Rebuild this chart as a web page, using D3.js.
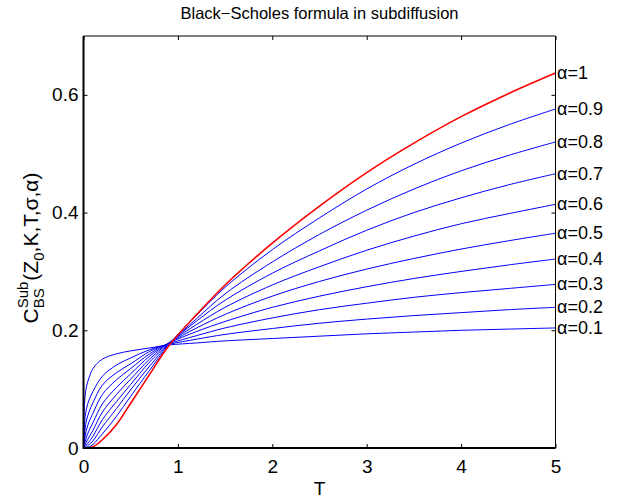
<!DOCTYPE html>
<html>
<head>
<meta charset="utf-8">
<script src="https://cdn.jsdelivr.net/npm/d3@7"></script>
<style>
body { margin: 0; background: #fff; }
text { font-family: "Liberation Sans", Arial, sans-serif; fill: #000; }
</style>
</head>
<body>
<script>
// time grid
const T = [0, 0.01, 0.03, 0.06, 0.1, 0.2, 0.35, 0.5, 0.7, 0.9, 1.2, 1.5, 2, 2.5, 3, 3.5, 4, 4.5, 5];

// option price for each alpha, read at the T values above
const a10 = [0, 0, 0, 0.0003, 0.002, 0.014, 0.040, 0.076, 0.125, 0.173, 0.227, 0.277, 0.348, 0.411, 0.468, 0.518, 0.563, 0.602, 0.637];
const a09 = [0, 0, 0.0005, 0.002, 0.006, 0.024, 0.054, 0.088, 0.132, 0.175, 0.226, 0.273, 0.337, 0.391, 0.440, 0.482, 0.518, 0.549, 0.576];
const a08 = [0, 0.0003, 0.002, 0.006, 0.012, 0.036, 0.067, 0.099, 0.139, 0.176, 0.220, 0.262, 0.316, 0.363, 0.404, 0.440, 0.471, 0.497, 0.520];
const a07 = [0, 0.001, 0.005, 0.011, 0.020, 0.048, 0.079, 0.108, 0.146, 0.177, 0.216, 0.251, 0.297, 0.335, 0.370, 0.400, 0.425, 0.447, 0.466];
const a06 = [0, 0.003, 0.010, 0.019, 0.030, 0.061, 0.091, 0.117, 0.151, 0.178, 0.210, 0.239, 0.277, 0.308, 0.336, 0.360, 0.381, 0.398, 0.414];
const a05 = [0, 0.006, 0.018, 0.030, 0.043, 0.075, 0.103, 0.126, 0.156, 0.178, 0.204, 0.227, 0.258, 0.283, 0.304, 0.322, 0.338, 0.352, 0.365];
const a04 = [0, 0.012, 0.030, 0.045, 0.059, 0.091, 0.116, 0.135, 0.160, 0.178, 0.198, 0.215, 0.239, 0.258, 0.274, 0.288, 0.300, 0.311, 0.321];
const a03 = [0, 0.022, 0.046, 0.062, 0.077, 0.107, 0.128, 0.143, 0.164, 0.177, 0.191, 0.204, 0.221, 0.235, 0.246, 0.256, 0.264, 0.271, 0.278];
const a02 = [0, 0.040, 0.066, 0.082, 0.096, 0.122, 0.141, 0.153, 0.167, 0.176, 0.185, 0.193, 0.203, 0.212, 0.219, 0.225, 0.230, 0.235, 0.239];
const a01 = [0, 0.075, 0.103, 0.120, 0.135, 0.151, 0.160, 0.165, 0.170, 0.175, 0.1785, 0.182, 0.186, 0.190, 0.194, 0.197, 0.200, 0.202, 0.204];

const labels = ["\u03b1=1", "\u03b1=0.9", "\u03b1=0.8", "\u03b1=0.7", "\u03b1=0.6",
                "\u03b1=0.5", "\u03b1=0.4", "\u03b1=0.3", "\u03b1=0.2", "\u03b1=0.1"];
const xTicks = [0, 1, 2, 3, 4, 5];
const yTicks = [0, 0.2, 0.4, 0.6];

const series = [a10, a09, a08, a07, a06, a05, a04, a03, a02, a01].map((v, i) => ({
    label: labels[i],
    red: i === 0,
    points: v.map((c, j) => [T[j], c])
}));

const width = 617, height = 500;
const margin = {top: 36, right: 61.5, bottom: 52, left: 83.5};

const x = d3.scaleLinear()
    .domain([0, 5])
    .range([margin.left, width - margin.right]);

const y = d3.scaleLinear()
    .domain([0, 0.7])
    .range([height - margin.bottom, margin.top]);

const svg = d3.select("body").append("svg")
    .attr("width", width)
    .attr("height", height);

// axes, ticks pointing inward
svg.append("g")
    .attr("transform", `translate(0,${y(0)})`)
    .call(d3.axisBottom(x).tickValues(xTicks).tickFormat(d3.format("d"))
        .tickSizeInner(-4).tickSizeOuter(0).tickPadding(12))
    .call(g => g.select(".domain").remove())
    .call(g => g.selectAll("text").attr("font-size", 19).attr("font-family", null));

svg.append("g")
    .attr("transform", `translate(${x(0)},0)`)
    .call(d3.axisLeft(y).tickValues(yTicks).tickFormat(d => d === 0 ? "0" : d3.format(".1f")(d))
        .tickSizeInner(-4).tickSizeOuter(0).tickPadding(5))
    .call(g => g.select(".domain").remove())
    .call(g => g.selectAll("text").attr("font-size", 19).attr("font-family", null));

svg.append("g")
    .attr("transform", `translate(0,${y(0.7)})`)
    .call(d3.axisTop(x).tickValues(xTicks).tickFormat("").tickSizeInner(-4).tickSizeOuter(0))
    .call(g => g.select(".domain").remove());

svg.append("g")
    .attr("transform", `translate(${x(5)},0)`)
    .call(d3.axisRight(y).tickValues(yTicks).tickFormat("").tickSizeInner(-4).tickSizeOuter(0))
    .call(g => g.select(".domain").remove());

// curves
const line = d3.line()
    .x(d => x(d[0]))
    .y(d => y(d[1]))
    .curve(d3.curveCatmullRom.alpha(0.5));

svg.append("g")
    .attr("fill", "none")
    .selectAll("path")
    .data(series.slice().reverse())
    .join("path")
    .attr("stroke", d => d.red ? "#ff0000" : "#0000ff")
    .attr("stroke-width", d => d.red ? 1.6 : 1)
    .attr("d", d => line(d.points));

// box
svg.append("path")
    .attr("fill", "none").attr("stroke", "#000").attr("stroke-width", 1)
    .attr("d", `M${x(0)},${y(0.7)}H${x(5)}V${y(0)}`);
svg.append("path")
    .attr("fill", "none").attr("stroke", "#000").attr("stroke-width", 2)
    .attr("d", `M${x(0)},${y(0.7)}V${y(0)}H${x(5)}`);

// alpha labels at the right end
svg.append("g")
    .selectAll("text")
    .data(series)
    .join("text")
    .attr("x", x(5) + 1.5)
    .attr("y", d => y(d.points[d.points.length - 1][1]) + 6)
    .attr("font-size", 18)
    .text(d => d.label);

// title
svg.append("text")
    .attr("x", (x(0) + x(5)) / 2)
    .attr("y", 19)
    .attr("text-anchor", "middle")
    .attr("font-size", 16.5)
    .text("Black\u2212Scholes formula in subdiffusion");

// x label
svg.append("text")
    .attr("x", (x(0) + x(5)) / 2)
    .attr("y", 495)
    .attr("text-anchor", "middle")
    .attr("font-size", 19)
    .text("T");

// y label: C with stacked Sub / BS, then (Z_0,K,T,σ,α)
const yl = svg.append("g");
const fs = 21, fsm = 15;
let pos = 0;
const put = (s, size, dy) => {
    const t = yl.append("text").attr("x", pos).attr("y", dy).attr("font-size", size).text(s);
    return t.node().getComputedTextLength();
};
pos += put("C", fs, 0);
const wSup = put("Sub", fsm, -10);
const wSub = put("BS", fsm, 6);
pos += Math.max(wSup, wSub) + 1;
pos += put("(Z", fs, 0);
pos += put("0", fsm, 6);
pos += put(",K,T,\u03c3,\u03b1)", fs, 0);
yl.attr("transform", `translate(38,${(y(0) + y(0.7)) / 2 + 6}) rotate(-90) translate(${-pos / 2},0)`);
</script>
</body>
</html>
